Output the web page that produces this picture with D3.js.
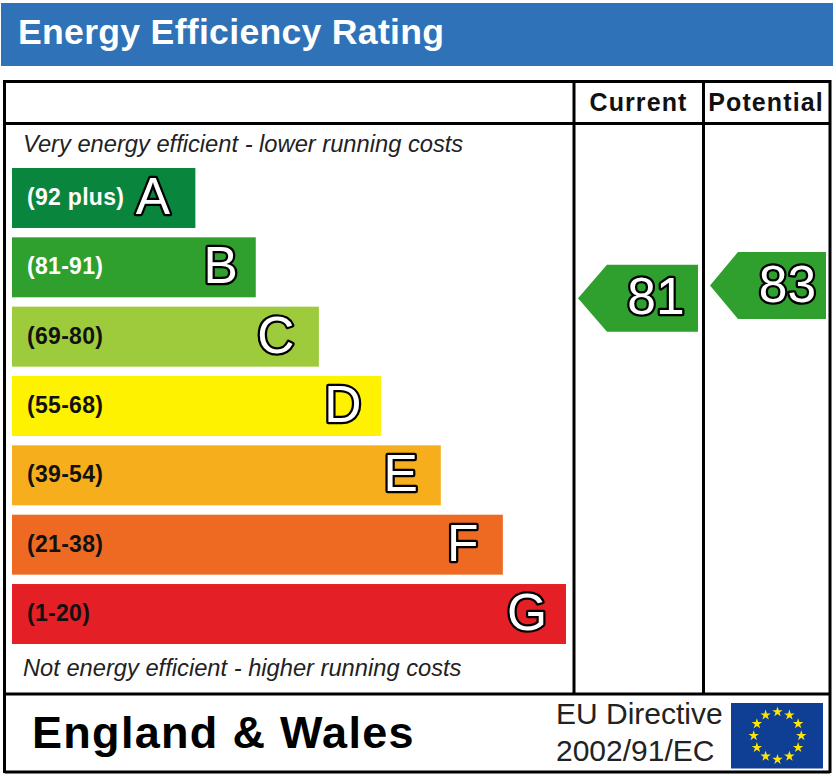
<!DOCTYPE html>
<html><head><meta charset="utf-8">
<script src="https://cdnjs.cloudflare.com/ajax/libs/d3/7.8.5/d3.min.js"></script>
<style>
html,body{margin:0;padding:0;background:#fff}
svg{display:block}
text{font-family:"Liberation Sans",Arial,sans-serif}
</style></head><body>
<svg id="c" width="836" height="776"></svg>
<script>
const title = "Energy Efficiency Rating";
const columns = ["Current", "Potential"];
const letters = ["A","B","C","D","E","F","G"];
const ranges = ["(92 plus)","(81-91)","(69-80)","(55-68)","(39-54)","(21-38)","(1-20)"];
const barLengths = [33.1, 44.0, 55.4, 66.6, 77.4, 88.6, 100];
const barColors = ["#0a853d","#2f9f2e","#9ecb3c","#fff200","#f7ae1c","#ee6a23","#e51f26"];
const rangeColors = ["#ffffff","#ffffff","#111111","#111111","#111111","#111111","#111111"];
const scoreValues = [81, 83];
const topNote = "Very energy efficient - lower running costs";
const bottomNote = "Not energy efficient - higher running costs";
const region = "England & Wales";
const directive = ["EU Directive", "2002/91/EC"];

const svg = d3.select("#c");
const x = d3.scaleLinear().domain([0,100]).range([12,566]);
const y = d3.scaleBand().domain(letters).range([168,644]).paddingInner(0.135);
const scoreY = d3.scaleLinear().domain([81,83]).range([298.3,285.5]);

// outlined glyphs: black stroke painted beneath a white fill
function outlined(sel, xf, yf, tf){
  sel.append("text").attr("x",xf).attr("y",yf).attr("text-anchor","middle")
    .attr("font-size",51.5).attr("fill","#fff").attr("stroke","#000").attr("stroke-width",4.6)
    .attr("paint-order","stroke").attr("stroke-linejoin","round").text(tf);
}

// header
svg.append("rect").attr("x",1).attr("y",3).attr("width",832).attr("height",63).attr("fill","#2f72b8");
svg.append("text").attr("x",18).attr("y",44).attr("font-size",35.6).attr("font-weight","bold").attr("letter-spacing",0.3).attr("fill","#fff").text(title);

// frame
const rules = [[4.5,81.5,830,81.5],[4.5,123.5,830,123.5],[4.5,694,830,694],[4.5,772,830,772],
               [4.5,80,4.5,773],[830,80,830,773],[574,81,574,693],[703.5,81,703.5,693]];
svg.append("g").selectAll("line").data(rules).join("line")
  .attr("x1",d=>d[0]).attr("y1",d=>d[1]).attr("x2",d=>d[2]).attr("y2",d=>d[3])
  .attr("stroke","#000").attr("stroke-width",3);

// column headings
const colX = [638.5, 766];
svg.append("g").selectAll("text").data(columns).join("text")
  .attr("x",(d,i)=>colX[i]).attr("y",111).attr("text-anchor","middle")
  .attr("font-size",25).attr("font-weight","bold").attr("letter-spacing",1.1).attr("fill","#111").text(d=>d);

// notes
svg.append("text").attr("x",23).attr("y",152).attr("font-size",23.7).attr("font-style","italic").attr("fill","#222").text(topNote);
svg.append("text").attr("x",23).attr("y",676).attr("font-size",23.7).attr("font-style","italic").attr("fill","#222").text(bottomNote);

// bands
const letterInset = [42.5,35,43,38,40,40,39];
const rows = letters.map((l,i)=>({l,i,range:ranges[i],v:barLengths[i],c:barColors[i],tc:rangeColors[i]}));
const g = svg.append("g").selectAll("g").data(rows).join("g");
g.append("rect").attr("x",x(0)).attr("y",d=>y(d.l)).attr("width",d=>x(d.v)-x(0)).attr("height",y.bandwidth()).attr("fill",d=>d.c);
g.append("text").attr("x",27).attr("y",d=>y(d.l)+y.bandwidth()/2+7)
  .attr("font-size",23).attr("font-weight","bold").attr("letter-spacing",0.3).attr("fill",d=>d.tc).text(d=>d.range);
outlined(g, d=>x(d.v)-letterInset[d.i], d=>y(d.l)+y.bandwidth()/2+16, d=>d.l);

// score arrows
const arrowX = [[578,607,698],[710,738,826]];
const digitX = [656, 787.5];
const arrowH = 33.5;
const arrow = svg.append("g").selectAll("g").data(scoreValues.map((v,i)=>({v,i}))).join("g");
arrow.append("path").attr("fill","#2f9f2e").attr("d",d=>{
  const [a,b,c]=arrowX[d.i], m=scoreY(d.v), p=d3.path();
  p.moveTo(a,m);p.lineTo(b,m-arrowH);p.lineTo(c,m-arrowH);p.lineTo(c,m+arrowH);p.lineTo(b,m+arrowH);p.closePath();
  return p.toString();
});
outlined(arrow, d=>digitX[d.i], d=>scoreY(d.v)+16, d=>d.v);

// footer
svg.append("text").attr("x",32).attr("y",748).attr("font-size",45).attr("font-weight","bold").attr("fill","#000").attr("letter-spacing",1.3).text(region);
svg.append("g").selectAll("text").data(directive).join("text")
  .attr("x",556).attr("y",(d,i)=>[724,761][i]).attr("font-size",30).attr("fill","#222").text(d=>d);

// flag
const flagCx=777.5, flagCy=735.7, ringR=23.8;
svg.append("rect").attr("x",731).attr("y",703).attr("width",92).attr("height",65.5).attr("fill","#0f3f94");
const star = d3.symbol().type(d3.symbolStar).size(34);
const angle = d3.scaleLinear().domain([0,12]).range([0,2*Math.PI]);
svg.append("g").selectAll("path").data(d3.range(12)).join("path")
  .attr("d",star).attr("fill","#ffe600")
  .attr("transform",i=>`translate(${flagCx+ringR*Math.sin(angle(i))},${flagCy-ringR*Math.cos(angle(i))})`);
</script>
</body></html>
